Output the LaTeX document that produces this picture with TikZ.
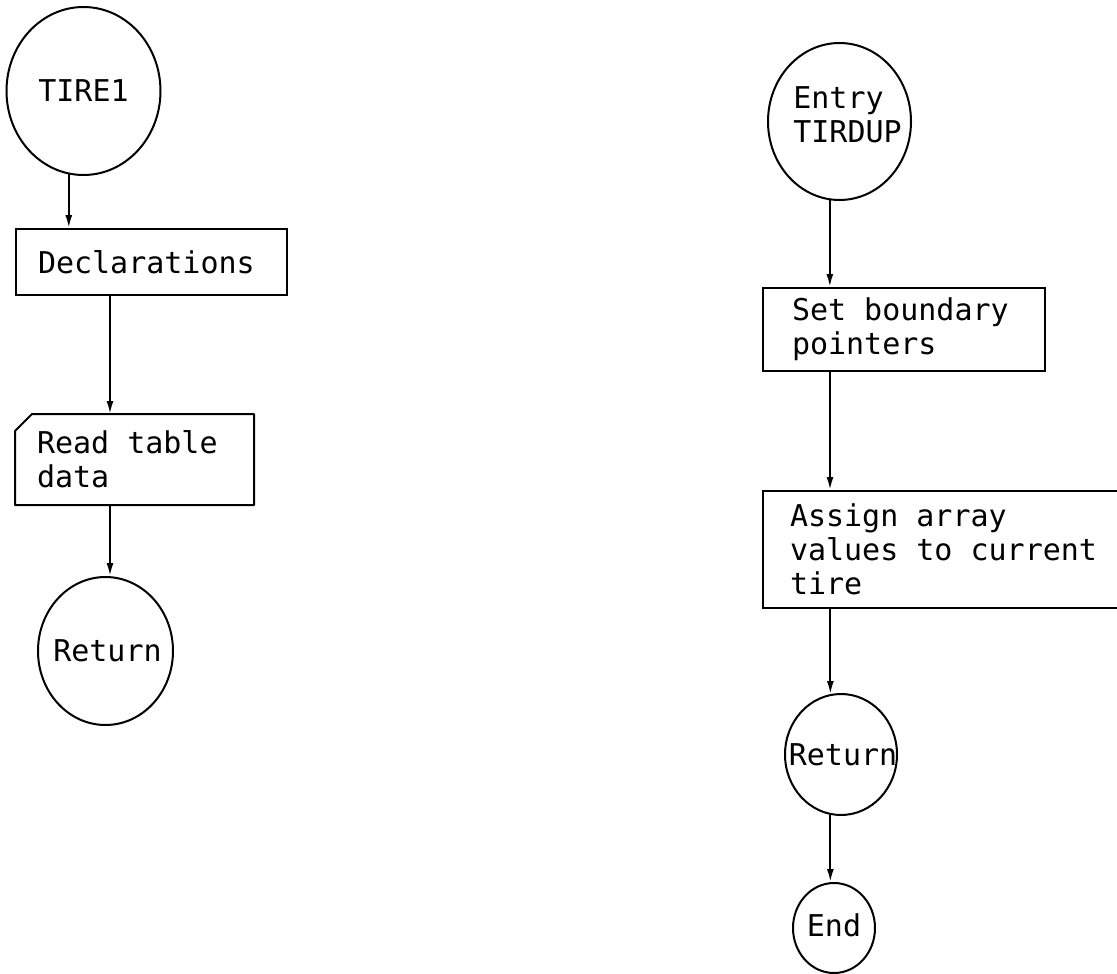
\documentclass[tikz,border=0pt]{standalone}
\usepackage{fontspec}
\setmonofont{DejaVu Sans Mono}
\usetikzlibrary{arrows.meta,shapes.geometric}
% typewriter face for all chart text
\newcommand\chartfont{\ttfamily\fontsize{30}{34}\selectfont}
\begin{document}
\begin{tikzpicture}[x=1pt,y=-1pt,
  every node/.style={font=\chartfont},
  term/.style={ellipse, draw, line width=2pt, inner sep=0pt},
  % ragged-right boxes keep full-width typewriter spaces
  proc/.style={rectangle, draw, line width=2pt, align=left, inner ysep=0pt,
               execute at begin node={\spaceskip=0.602em\relax}},
  flow/.style={line width=2pt, -{Latex[length=13pt,width=7pt]}},
]
\useasboundingbox (0,0) rectangle (1117,974);

% left chart: TIRE1
\node[term, minimum width=154pt, minimum height=168pt,
      label={[name=tire1-t]center:TIRE1}] (tire1) at (83.5,91) {};
\node[proc, text width=227pt, inner xsep=22pt, minimum height=66pt]
      (decl) at (151.5,262) {Declarations};
\node[proc, draw=none, text width=195pt, inner xsep=21pt, minimum height=89pt]
      (read) at (134.5,459.5) {Read table\\data};
\draw[line width=2pt, line join=round]
  ([yshift=-17pt]read.north west) -- ([xshift=17pt]read.north west)
  -- (read.north east) -- (read.south east) -- (read.south west) -- cycle;
\node[term, minimum width=135pt, minimum height=148pt,
      label={[name=ret1-t, xshift=2pt]center:Return}] (ret1) at (105.5,651) {};

\draw[flow] (tire1.-100.4) -- (tire1.-100.4 |- decl.north);
\draw[flow] ([xshift=-41.5pt]decl.south) -- ([xshift=-41.5pt]decl.south |- read.north);
\draw[flow] ([xshift=-24.5pt]read.south) -- ([xshift=-24.5pt]read.south |- ret1.north);

% right chart: entry TIRDUP
\node[term, minimum width=143pt, minimum height=157pt,
      label={[name=entry-t, align=left, xshift=8pt, yshift=7pt]center:Entry\\TIRDUP}]
      (entry) at (839.5,121.5) {};
\node[proc, text width=224pt, inner xsep=29pt, minimum height=83pt]
      (setb) at (904,329.5) {Set boundary\\pointers};
\node[proc, text width=318pt, inner xsep=27pt, minimum height=117pt]
      (assign) at (949,549.5) {Assign array\\values to current\\tire};
\node[term, minimum width=112pt, minimum height=121pt,
      label={[name=ret2-t, xshift=2pt]center:Return}] (ret2) at (841,754.5) {};
\node[term, minimum width=82pt, minimum height=90pt,
      label={[name=end-t, yshift=3pt]center:End}] (end) at (834,928) {};

\draw[flow] (entry.-97) -- (entry.-97 |- setb.north);
\draw[flow] ([xshift=-74pt]setb.south) -- ([xshift=-74pt]setb.south |- assign.north);
\draw[flow] (assign.south -| ret2.100.6) -- (ret2.100.6);
\draw[flow] (ret2.-100.6) -- (ret2.-100.6 |- end.north);
\end{tikzpicture}
\end{document}
